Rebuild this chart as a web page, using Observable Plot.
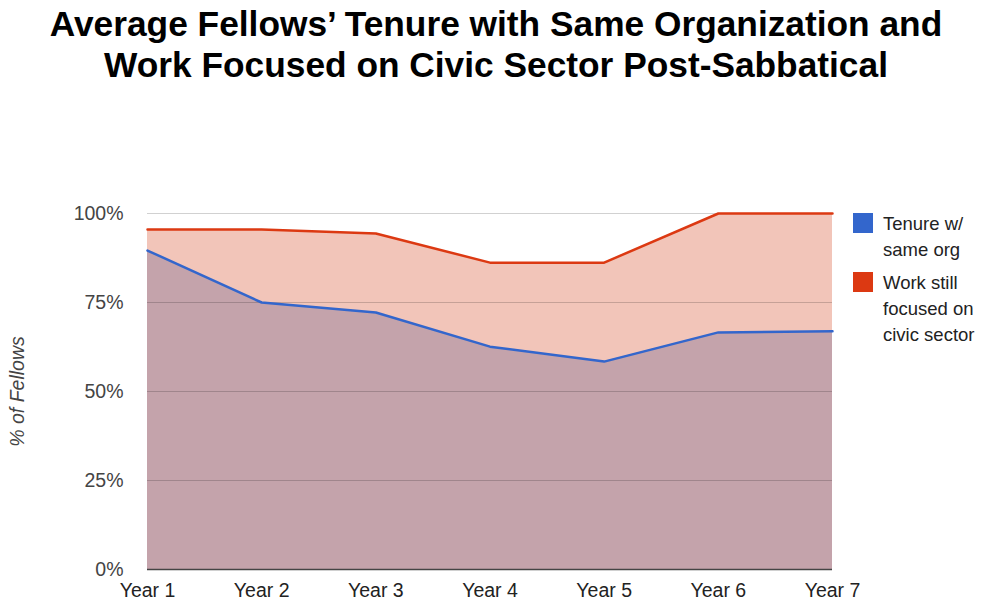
<!DOCTYPE html>
<html>
<head>
<meta charset="utf-8">
<script src="https://cdn.jsdelivr.net/npm/d3@7"></script>
<script src="https://cdn.jsdelivr.net/npm/@observablehq/plot@0.6"></script>
<style>
  html, body { margin: 0; padding: 0; background: #fff; }
  #wrap { position: relative; width: 992px; height: 604px; overflow: hidden; font-family: "Liberation Sans", Arial, sans-serif; }
  #title { position: absolute; left: 0; top: 3px; width: 992px; text-align: center; font-weight: bold; font-size: 35.3px; line-height: 41px; color: #000; }
  #chart { position: absolute; left: 0; top: 0; }
  #legend { position: absolute; left: 853px; top: 211px; font-size: 18.5px; line-height: 26px; color: #222; }
  .item { position: relative; padding-left: 30px; margin-bottom: 7px; }
  .sw { position: absolute; left: 0; top: 2px; width: 20px; height: 20px; }
</style>
</head>
<body>
<div id="wrap">
  <div id="chart"></div>
  <div id="title">Average Fellows’ Tenure with Same Organization and<br>Work Focused on Civic Sector Post-Sabbatical</div>
  <div id="legend"></div>
</div>
<script>
const years = [1, 2, 3, 4, 5, 6, 7];
const yearLabels = ["Year 1", "Year 2", "Year 3", "Year 4", "Year 5", "Year 6", "Year 7"];
const tenure = [89.6, 75.0, 72.2, 62.6, 58.4, 66.6, 66.9];
const civic = [95.5, 95.5, 94.4, 86.2, 86.2, 100, 100];
const yTicks = [0, 25, 50, 75, 100];
const seriesNames = ["Tenure w/\nsame org", "Work still\nfocused on\ncivic sector"];
const seriesColors = ["#3366cc", "#dc3912"];

const tenureData = years.map((y, i) => ({year: y, value: tenure[i]}));
const civicData = years.map((y, i) => ({year: y, value: civic[i]}));

const chart = Plot.plot({
  width: 992,
  height: 604,
  marginTop: 213,
  marginBottom: 35,
  marginLeft: 147,
  marginRight: 160,
  style: {fontFamily: "'Liberation Sans', Arial, sans-serif", fontSize: "19.5px", color: "#222", background: "transparent"},
  x: {domain: [1, 7], label: null},
  y: {domain: [0, 100], label: null},
  marks: [
    Plot.areaY(civicData, {x: "year", y: "value", fill: "#f2c5b9"}),
    Plot.areaY(tenureData, {x: "year", y: "value", fill: "#c4a3ab"}),
    Plot.ruleY(yTicks.filter(d => d > 0), {stroke: "#000", strokeOpacity: 0.18, strokeWidth: 1}),
    Plot.ruleY([0], {stroke: "#444", strokeWidth: 1.5}),
    Plot.lineY(civicData, {x: "year", y: "value", stroke: seriesColors[1], strokeWidth: 2.5}),
    Plot.lineY(tenureData, {x: "year", y: "value", stroke: seriesColors[0], strokeWidth: 2.5}),
    Plot.axisX({ticks: years, tickFormat: d => yearLabels[d - 1], tickSize: 0, tickPadding: 14, fill: "#222", fontSize: 19.5, label: null}),
    Plot.axisY({ticks: yTicks, tickFormat: d => d + "%", tickSize: 0, tickPadding: 24, fill: "#444", fontSize: 19.5, label: null}),
    Plot.text(["% of Fellows"], {frameAnchor: "left", dx: -130, rotate: -90, textAnchor: "middle", fontStyle: "italic", fill: "#444", fontSize: 19.5})
  ]
});
document.getElementById("chart").appendChild(chart);

const legend = document.getElementById("legend");
seriesNames.forEach((name, i) => {
  const item = document.createElement("div");
  item.className = "item";
  const sw = document.createElement("div");
  sw.className = "sw";
  sw.style.background = seriesColors[i];
  item.appendChild(sw);
  name.split("\n").forEach(line => {
    const l = document.createElement("div");
    l.textContent = line;
    item.appendChild(l);
  });
  legend.appendChild(item);
});
</script>
</body>
</html>
